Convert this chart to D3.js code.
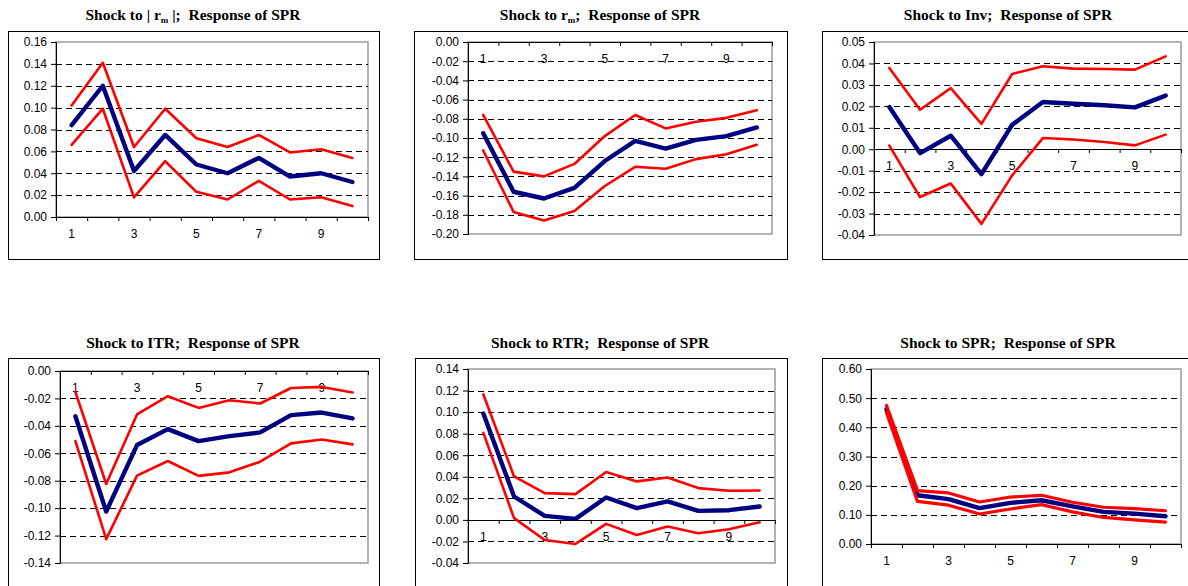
<!DOCTYPE html>
<html>
<head>
<meta charset="utf-8">
<script src="https://cdn.jsdelivr.net/npm/d3@7"></script>
<style>
  html, body { margin: 0; padding: 0; background: #fff; }
  svg { display: block; }
</style>
</head>
<body>
<svg id="chart" width="1188" height="586"></svg>
<script>
// ---------- DATA ----------
const periods = [1, 2, 3, 4, 5, 6, 7, 8, 9, 10];
const xTickLabels = [1, 3, 5, 7, 9];

const titles = [
  ["Shock to | r", "m", " |;  Response of SPR"],
  ["Shock to r", "m", ";  Response of SPR"],
  ["Shock to Inv;  Response of SPR", "", ""],
  ["Shock to ITR;  Response of SPR", "", ""],
  ["Shock to RTR;  Response of SPR", "", ""],
  ["Shock to SPR;  Response of SPR", "", ""]
];

// Panel 1: shock to |rm|
const absRmTicks = [0.00, 0.02, 0.04, 0.06, 0.08, 0.10, 0.12, 0.14, 0.16];
const absRmMid = [0.084, 0.120, 0.042, 0.075, 0.048, 0.040, 0.054, 0.037, 0.040, 0.032];
const absRmUp  = [0.102, 0.141, 0.064, 0.099, 0.072, 0.064, 0.075, 0.059, 0.062, 0.054];
const absRmLo  = [0.066, 0.099, 0.018, 0.051, 0.023, 0.016, 0.033, 0.016, 0.018, 0.010];

// Panel 2: shock to rm
const rmTicks = [-0.20, -0.18, -0.16, -0.14, -0.12, -0.10, -0.08, -0.06, -0.04, -0.02, 0.00];
const rmMid = [-0.095, -0.156, -0.163, -0.152, -0.124, -0.103, -0.111, -0.102, -0.098, -0.089];
const rmUp  = [-0.076, -0.135, -0.140, -0.127, -0.098, -0.076, -0.090, -0.083, -0.079, -0.071];
const rmLo  = [-0.113, -0.177, -0.186, -0.176, -0.150, -0.130, -0.132, -0.122, -0.117, -0.107];

// Panel 3: shock to Inv
const invTicks = [-0.04, -0.03, -0.02, -0.01, 0.00, 0.01, 0.02, 0.03, 0.04, 0.05];
const invMid = [0.0197, -0.0018, 0.0063, -0.0116, 0.0114, 0.0220, 0.0212, 0.0205, 0.0195, 0.0250];
const invUp  = [0.0379, 0.0184, 0.0285, 0.0118, 0.0351, 0.0387, 0.0376, 0.0374, 0.0371, 0.0433];
const invLo  = [0.0017, -0.0223, -0.0160, -0.0348, -0.0122, 0.0052, 0.0045, 0.0034, 0.0018, 0.0068];

// Panel 4: shock to ITR
const itrTicks = [-0.14, -0.12, -0.10, -0.08, -0.06, -0.04, -0.02, 0.00];
const itrMid = [-0.0330, -0.1025, -0.0540, -0.0424, -0.0511, -0.0475, -0.0448, -0.0322, -0.0303, -0.0346];
const itrUp  = [-0.0153, -0.0824, -0.0317, -0.0184, -0.0269, -0.0213, -0.0237, -0.0124, -0.0116, -0.0157];
const itrLo  = [-0.0511, -0.1226, -0.0763, -0.0656, -0.0765, -0.0739, -0.0661, -0.0528, -0.0499, -0.0535];

// Panel 5: shock to RTR
const rtrTicks = [-0.04, -0.02, 0.00, 0.02, 0.04, 0.06, 0.08, 0.10, 0.12, 0.14];
const rtrMid = [0.0987, 0.0217, 0.0037, 0.0009, 0.0208, 0.0109, 0.0171, 0.0084, 0.0090, 0.0124];
const rtrUp  = [0.1164, 0.0403, 0.0248, 0.0239, 0.0444, 0.0357, 0.0394, 0.0295, 0.0270, 0.0273];
const rtrLo  = [0.0807, 0.0016, -0.0186, -0.0223, -0.0037, -0.0140, -0.0062, -0.0124, -0.0087, -0.0022];

// Panel 6: shock to SPR
const sprTicks = [0.00, 0.10, 0.20, 0.30, 0.40, 0.50, 0.60];
const sprMid = [0.462, 0.167, 0.154, 0.123, 0.141, 0.150, 0.129, 0.110, 0.104, 0.095];
const sprUp  = [0.475, 0.183, 0.175, 0.144, 0.161, 0.167, 0.143, 0.126, 0.121, 0.114];
const sprLo  = [0.450, 0.146, 0.133, 0.103, 0.120, 0.135, 0.110, 0.091, 0.083, 0.075];

// ---------- LAYOUT (positions only) ----------
const layout = [
  { box: [8, 31, 379, 259],    plot: [56, 42, 368, 217],   tx: 193,  ty: 20,  redW: 2.6 },
  { box: [414, 31, 787, 259],  plot: [468, 42, 772, 234],  tx: 600,  ty: 20,  redW: 2.6 },
  { box: [822, 31, 1194, 259], plot: [874, 42, 1181, 235], tx: 1008, ty: 20,  redW: 2.6 },
  { box: [8, 358, 379, 620],   plot: [60, 371, 368, 563],  tx: 193,  ty: 348, redW: 2.6 },
  { box: [415, 358, 787, 620], plot: [468, 369, 775, 563], tx: 600,  ty: 348, redW: 2.6 },
  { box: [822, 358, 1194, 620],plot: [871, 369, 1181, 544],tx: 1008, ty: 348, redW: 3.2 }
];

const panels = [
  { ticks: absRmTicks, mid: absRmMid, up: absRmUp, lo: absRmLo },
  { ticks: rmTicks,    mid: rmMid,    up: rmUp,    lo: rmLo },
  { ticks: invTicks,   mid: invMid,   up: invUp,   lo: invLo },
  { ticks: itrTicks,   mid: itrMid,   up: itrUp,   lo: itrLo },
  { ticks: rtrTicks,   mid: rtrMid,   up: rtrUp,   lo: rtrLo },
  { ticks: sprTicks,   mid: sprMid,   up: sprUp,   lo: sprLo }
];

const svg = d3.select("#chart");
const fmt = d => (Math.abs(d) < 1e-9 ? "0.00" : d.toFixed(2));

panels.forEach((p, i) => {
  const L = layout[i];
  const [bx0, by0, bx1, by1] = L.box;
  const [px0, py0, px1, py1] = L.plot;
  const g = svg.append("g");

  // Outer chart box
  g.append("rect")
    .attr("x", bx0 + 0.5).attr("y", by0 + 0.5)
    .attr("width", bx1 - bx0).attr("height", by1 - by0)
    .attr("fill", "#fff").attr("stroke", "#000").attr("stroke-width", 1);

  // Title
  const t = g.append("text")
    .attr("x", L.tx).attr("y", L.ty)
    .attr("text-anchor", "middle")
    .attr("font-family", "'Liberation Serif', 'Times New Roman', serif")
    .attr("font-weight", "bold")
    .attr("font-size", 15.5)
    .style("white-space", "pre");
  t.append("tspan").text(titles[i][0]);
  if (titles[i][1]) {
    t.append("tspan").attr("font-size", 9).attr("dy", 3).text(titles[i][1]);
    t.append("tspan").attr("dy", -3).text(titles[i][2]);
  }

  const y = d3.scaleLinear()
    .domain([p.ticks[0], p.ticks[p.ticks.length - 1]])
    .range([py1, py0]);
  const x = d3.scaleLinear().domain([0.5, 10.5]).range([px0, px1]);

  // Plot area border (grey)
  g.append("rect")
    .attr("x", px0).attr("y", py0)
    .attr("width", px1 - px0).attr("height", py1 - py0)
    .attr("fill", "none").attr("stroke", "#9a9a9a").attr("stroke-width", 1.5);

  // Dashed gridlines
  const inner = p.ticks.slice(1, -1);
  g.append("g").selectAll("line").data(inner).join("line")
    .attr("x1", px0).attr("x2", px1)
    .attr("y1", d => Math.round(y(d)) + 0.5).attr("y2", d => Math.round(y(d)) + 0.5)
    .attr("stroke", "#000").attr("stroke-width", 1)
    .attr("stroke-dasharray", "6,4");

  // Y axis
  const yAxis = d3.axisLeft(y).tickValues(p.ticks).tickFormat(fmt).tickSize(5).tickPadding(4);
  const ya = g.append("g").attr("transform", `translate(${px0},0)`).call(yAxis);
  ya.selectAll("text")
    .attr("font-family", "'Liberation Sans', Arial, sans-serif")
    .attr("font-size", 12).attr("fill", "#000");
  ya.selectAll("path, line").attr("stroke", "#000");

  // X axis at zero
  const y0 = Math.round(y(0));
  const xAxis = d3.axisBottom(x)
    .tickValues([0.5, 1.5, 2.5, 3.5, 4.5, 5.5, 6.5, 7.5, 8.5, 9.5, 10.5])
    .tickFormat("").tickSize(4).tickSizeOuter(0);
  const xa = g.append("g").attr("transform", `translate(0,${y0})`).call(xAxis);
  xa.selectAll("path, line").attr("stroke", "#000");

  // X labels
  g.append("g").selectAll("text").data(xTickLabels).join("text")
    .attr("x", d => x(d)).attr("y", y0 + 21)
    .attr("text-anchor", "middle")
    .attr("font-family", "'Liberation Sans', Arial, sans-serif")
    .attr("font-size", 12).attr("fill", "#000")
    .text(d => d);

  // Lines
  const line = d3.line().x((d, k) => x(periods[k])).y(d => y(d));
  g.append("path").datum(p.mid).attr("d", line)
    .attr("fill", "none").attr("stroke", "#000080").attr("stroke-width", 4.4)
    .attr("stroke-linejoin", "round").attr("stroke-linecap", "round");
  [p.up, p.lo].forEach(s => {
    g.append("path").datum(s).attr("d", line)
      .attr("fill", "none").attr("stroke", "#ff0000").attr("stroke-width", L.redW)
      .attr("stroke-linejoin", "round").attr("stroke-linecap", "round");
  });
});
</script>
</body>
</html>
